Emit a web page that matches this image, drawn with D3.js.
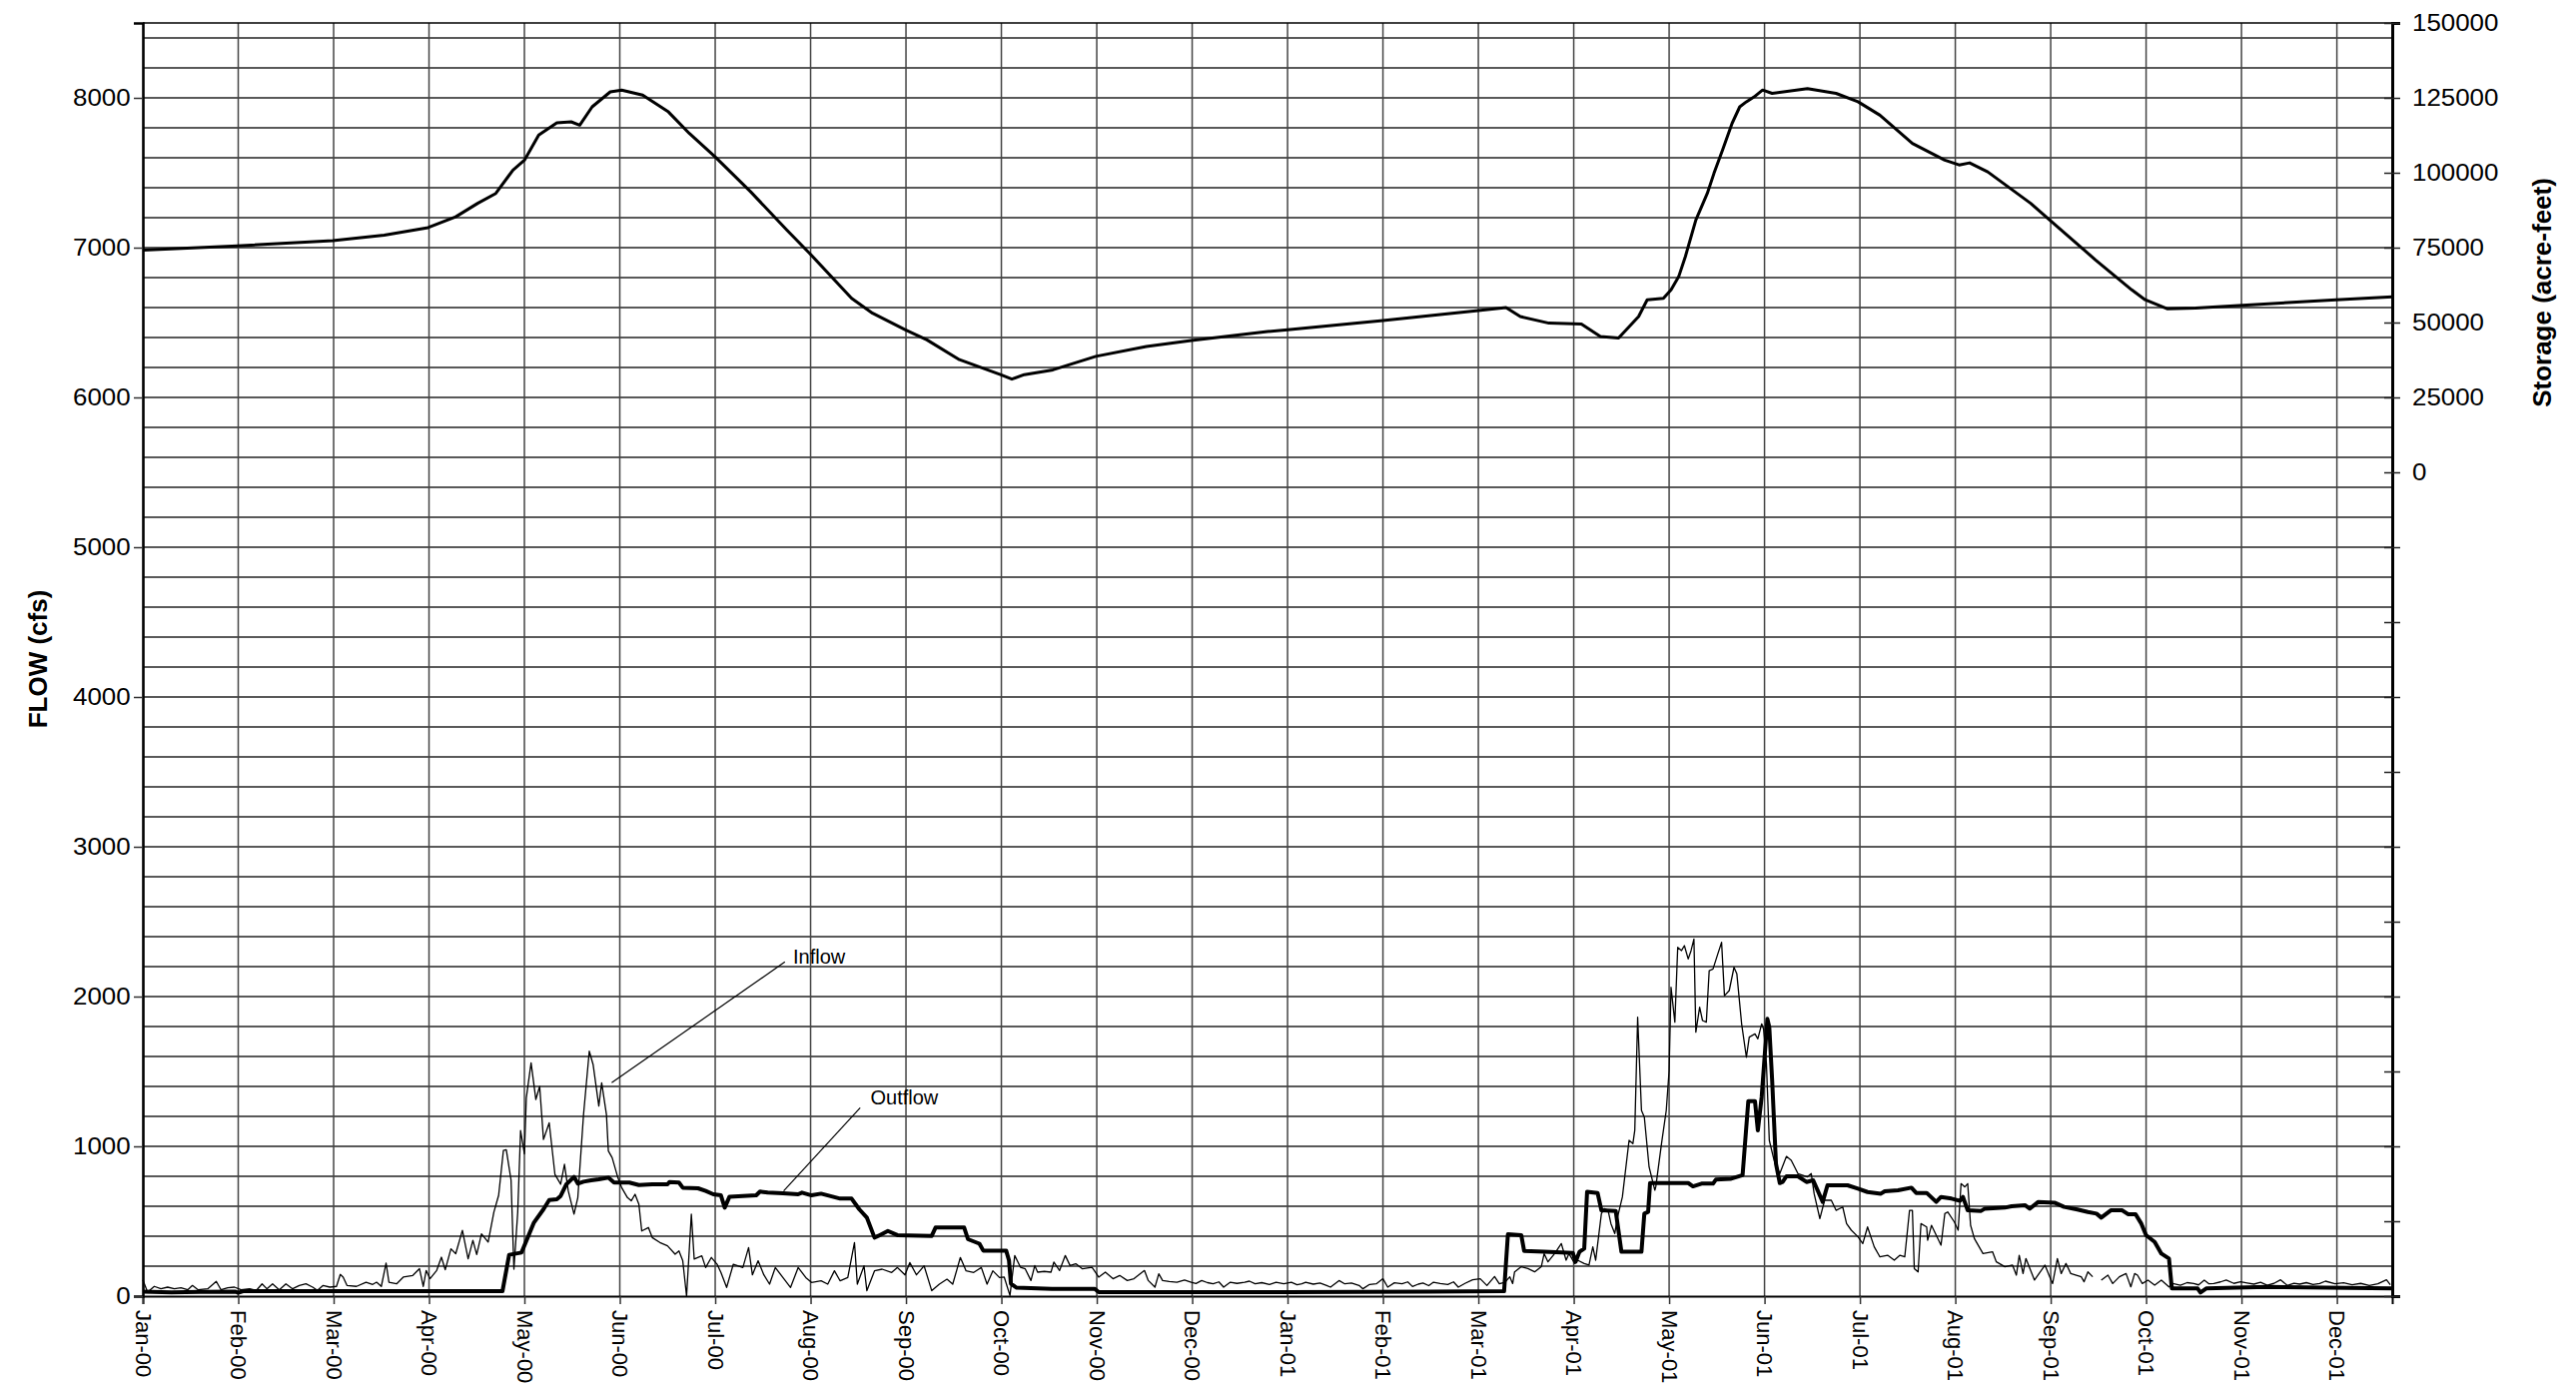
<!DOCTYPE html>
<html><head><meta charset="utf-8">
<script src="https://cdn.jsdelivr.net/npm/d3@7"></script>
<style>body{margin:0;background:#fff} text{font-family:"Liberation Sans",Arial,sans-serif;fill:#000}</style>
</head><body><svg id="c" width="2579" height="1388"></svg>
<script>
// ---- data (x = months since Jan-00) ----
const monthLabels = ["Jan-00","Feb-00","Mar-00","Apr-00","May-00","Jun-00","Jul-00","Aug-00","Sep-00","Oct-00","Nov-00","Dec-00",
  "Jan-01","Feb-01","Mar-01","Apr-01","May-01","Jun-01","Jul-01","Aug-01","Sep-01","Oct-01","Nov-01","Dec-01"];
const flowTicks = [0,1000,2000,3000,4000,5000,6000,7000,8000];
const storageLabels = [0,25000,50000,75000,100000,125000,150000];

const inflow = [[0,109],[0.05,27],[0.12,65],[0.19,49],[0.26,60],[0.33,49],[0.40,56],[0.47,42],[0.52,71],[0.58,42],[0.68,49],[0.77,98],[0.82,42],[0.89,56],[0.96,60],[1.03,42],[1.12,49],[1.19,38],[1.25,82],[1.30,49],[1.36,82],[1.43,42],[1.50,82],[1.57,49],[1.64,71],[1.71,82],[1.78,60],[1.83,38],[1.89,71],[1.96,60],[2.03,65],[2.07,145],[2.10,127],[2.14,71],[2.24,65],[2.34,93],[2.41,78],[2.45,93],[2.50,65],[2.55,220],[2.58,93],[2.66,82],[2.73,127],[2.83,138],[2.90,183],[2.94,65],[2.97,171],[3.01,116],[3.08,171],[3.13,260],[3.17,176],[3.23,316],[3.28,283],[3.35,439],[3.41,249],[3.46,372],[3.50,278],[3.55,416],[3.62,361],[3.68,561],[3.73,673],[3.78,973],[3.81,978],[3.86,775],[3.89,180],[3.93,560],[3.96,1105],[4.00,950],[4.02,1324],[4.07,1558],[4.12,1313],[4.16,1400],[4.20,1046],[4.26,1157],[4.32,813],[4.38,747],[4.42,880],[4.46,702],[4.52,547],[4.56,658],[4.62,1213],[4.68,1635],[4.72,1547],[4.78,1269],[4.81,1424],[4.86,1213],[4.88,969],[4.92,924],[4.98,791],[5.02,724],[5.08,658],[5.12,636],[5.16,680],[5.20,613],[5.23,435],[5.30,458],[5.34,391],[5.42,358],[5.50,336],[5.58,280],[5.62,302],[5.66,236],[5.70,0],[5.75,547],[5.78,247],[5.86,269],[5.90,191],[5.96,258],[6.02,213],[6.06,158],[6.12,58],[6.19,213],[6.29,191],[6.35,324],[6.39,142],[6.45,236],[6.51,142],[6.57,80],[6.63,191],[6.71,124],[6.79,58],[6.87,191],[6.95,124],[7.01,91],[7.11,102],[7.18,80],[7.25,169],[7.31,102],[7.39,124],[7.46,358],[7.49,80],[7.56,202],[7.59,36],[7.67,169],[7.75,180],[7.85,158],[7.91,191],[7.99,142],[8.04,224],[8.11,142],[8.19,202],[8.27,36],[8.35,80],[8.43,113],[8.49,80],[8.57,258],[8.63,169],[8.71,158],[8.79,191],[8.85,80],[8.91,169],[8.98,124],[9.03,127],[9.09,4],[9.14,271],[9.20,193],[9.25,182],[9.31,104],[9.35,204],[9.38,160],[9.45,165],[9.52,160],[9.55,227],[9.61,171],[9.67,271],[9.72,204],[9.78,216],[9.85,182],[9.95,193],[10.02,127],[10.09,160],[10.17,116],[10.24,138],[10.32,104],[10.39,116],[10.50,171],[10.54,104],[10.61,60],[10.65,149],[10.69,104],[10.76,98],[10.84,93],[10.92,108],[10.99,93],[11.04,84],[11.10,104],[11.16,90],[11.22,82],[11.28,95],[11.33,60],[11.40,93],[11.47,85],[11.55,93],[11.60,100],[11.66,82],[11.73,90],[11.81,78],[11.88,92],[11.96,82],[12.04,93],[12.10,76],[12.15,82],[12.19,93],[12.27,80],[12.34,88],[12.41,71],[12.45,60],[12.54,104],[12.60,82],[12.67,87],[12.75,71],[12.79,49],[12.86,78],[12.93,82],[13.00,116],[13.05,60],[13.12,89],[13.20,82],[13.26,95],[13.31,64],[13.37,80],[13.42,87],[13.48,70],[13.53,93],[13.60,84],[13.68,78],[13.74,95],[13.79,60],[13.86,85],[13.94,109],[14.02,116],[14.09,71],[14.17,131],[14.22,82],[14.28,93],[14.33,129],[14.36,84],[14.38,162],[14.45,196],[14.52,184],[14.59,162],[14.66,196],[14.69,284],[14.73,229],[14.80,284],[14.87,351],[14.92,240],[14.95,284],[15.01,218],[15.04,240],[15.11,218],[15.16,207],[15.20,329],[15.23,240],[15.29,551],[15.32,584],[15.36,573],[15.39,484],[15.43,418],[15.46,529],[15.51,662],[15.58,1040],[15.62,1018],[15.64,1107],[15.67,1862],[15.71,1240],[15.74,1195],[15.79,862],[15.85,707],[15.86,729],[15.92,1018],[15.97,1240],[16.00,1507],[16.02,2062],[16.06,1829],[16.09,2329],[16.13,2307],[16.16,2340],[16.20,2251],[16.23,2307],[16.26,2384],[16.28,1762],[16.32,1929],[16.35,1840],[16.39,1829],[16.42,2173],[16.46,2184],[16.51,2284],[16.55,2362],[16.58,2006],[16.63,2040],[16.68,2195],[16.71,2151],[16.76,1818],[16.81,1595],[16.84,1729],[16.90,1751],[16.93,1718],[16.97,1818],[16.99,1784],[17.02,1551],[17.05,1040],[17.10,907],[17.16,818],[17.23,933],[17.28,907],[17.35,818],[17.45,796],[17.49,818],[17.52,684],[17.58,518],[17.63,640],[17.70,640],[17.75,573],[17.82,595],[17.86,484],[17.91,440],[17.98,396],[18.03,351],[18.08,462],[18.15,329],[18.21,262],[18.29,273],[18.36,240],[18.42,273],[18.47,262],[18.52,573],[18.55,573],[18.57,184],[18.61,162],[18.64,484],[18.70,462],[18.71,373],[18.75,473],[18.80,407],[18.85,340],[18.89,551],[18.92,562],[18.99,495],[19.03,440],[19.06,751],[19.10,729],[19.13,751],[19.16,473],[19.20,384],[19.29,284],[19.39,296],[19.43,229],[19.52,196],[19.60,207],[19.64,140],[19.67,273],[19.71,151],[19.74,251],[19.83,107],[19.94,207],[19.99,129],[20.02,84],[20.07,251],[20.11,151],[20.16,218],[20.21,151],[20.32,129],[20.35,96],[20.39,162],[20.44,129],[20.48,null],[20.53,107],[20.60,140],[20.65,84],[20.72,129],[20.79,151],[20.84,62],[20.88,151],[20.91,140],[20.96,84],[21.02,107],[21.09,73],[21.16,107],[21.24,62],[21.28,84],[21.36,73],[21.43,90],[21.50,84],[21.55,75],[21.61,107],[21.66,82],[21.71,84],[21.78,95],[21.84,107],[21.92,85],[21.99,96],[22.06,88],[22.13,80],[22.20,92],[22.27,73],[22.34,85],[22.41,109],[22.48,71],[22.55,86],[22.61,80],[22.68,90],[22.75,78],[22.82,84],[22.88,100],[22.98,82],[23.07,89],[23.16,76],[23.25,85],[23.34,71],[23.43,82],[23.52,109],[23.56,76]];

const outflow = [[0,30],[0.3,25],[0.6,28],[0.97,30],[1.0,22],[1.05,33],[2.0,33],[3.0,33],[3.77,33],[3.84,276],[3.97,291],[4.02,369],[4.10,491],[4.20,580],[4.26,642],[4.34,647],[4.38,669],[4.44,747],[4.52,796],[4.56,751],[4.62,764],[4.70,773],[4.78,780],[4.88,791],[4.94,758],[5.10,758],[5.20,742],[5.34,747],[5.50,747],[5.52,762],[5.62,758],[5.66,724],[5.82,720],[5.90,702],[5.98,680],[6.06,673],[6.10,591],[6.15,664],[6.43,673],[6.47,698],[6.55,691],[6.71,687],[6.87,680],[6.91,691],[7.01,673],[7.11,684],[7.23,664],[7.31,651],[7.43,651],[7.51,580],[7.59,524],[7.67,391],[7.71,402],[7.81,435],[7.91,407],[8.27,402],[8.31,458],[8.61,458],[8.65,380],[8.77,350],[8.81,304],[9.05,304],[9.08,238],[9.10,82],[9.16,56],[9.53,49],[9.98,49],[10.02,27],[12.0,27],[13.5,30],[14.27,33],[14.31,413],[14.45,407],[14.48,302],[14.69,296],[14.99,289],[15.02,229],[15.06,296],[15.11,318],[15.14,696],[15.25,689],[15.29,573],[15.44,569],[15.50,296],[15.71,296],[15.74,551],[15.78,562],[15.80,755],[16.20,755],[16.25,733],[16.34,751],[16.46,751],[16.49,778],[16.65,784],[16.77,807],[16.83,1302],[16.90,1302],[16.93,1107],[16.97,1329],[17.03,1851],[17.05,1795],[17.08,1440],[17.12,884],[17.16,755],[17.19,762],[17.23,800],[17.35,800],[17.44,762],[17.51,773],[17.61,629],[17.66,740],[17.87,740],[17.98,718],[18.08,695],[18.22,684],[18.26,700],[18.40,707],[18.54,724],[18.59,689],[18.70,689],[18.80,629],[18.85,662],[18.96,651],[19.05,636],[19.08,662],[19.13,573],[19.27,569],[19.31,584],[19.52,591],[19.59,600],[19.73,607],[19.78,584],[19.87,629],[20.04,624],[20.14,596],[20.28,578],[20.39,562],[20.48,551],[20.53,524],[20.63,573],[20.75,573],[20.81,547],[20.89,547],[20.95,484],[21.00,407],[21.09,362],[21.16,284],[21.24,251],[21.27,51],[21.54,51],[21.57,24],[21.63,51],[22.27,62],[23.58,52]];

const storage = [[0,74200],[0.99,75600],[1.99,77300],[2.53,79200],[2.99,81700],[3.28,85300],[3.51,89800],[3.70,93100],[3.88,100900],[4.0,104200],[4.15,112600],[4.34,116700],[4.49,117000],[4.58,115900],[4.71,122000],[4.90,127000],[5.02,127600],[5.24,125900],[5.51,120300],[5.73,113100],[6.0,105300],[6.37,93700],[6.75,80900],[6.99,73100],[7.43,58100],[7.65,53100],[7.99,47600],[8.22,44200],[8.56,37600],[8.99,32600],[9.11,31100],[9.24,32600],[9.54,34200],[9.99,38700],[10.52,42000],[10.99,44000],[11.79,47000],[12.0,47600],[13.0,50700],[14.0,54000],[14.29,55000],[14.44,52000],[14.74,49800],[15.08,49500],[15.28,45300],[15.47,44800],[15.68,52000],[15.77,57600],[15.94,58100],[16.02,60900],[16.10,65300],[16.17,72000],[16.28,84200],[16.40,93100],[16.47,99800],[16.56,107600],[16.66,116500],[16.74,122000],[16.81,123700],[16.89,125300],[16.98,127600],[17.08,126500],[17.45,128100],[17.75,126500],[17.98,123700],[18.21,119200],[18.55,109800],[18.89,104200],[19.04,102600],[19.15,103300],[19.34,100300],[19.79,89800],[19.99,84200],[20.47,70900],[20.85,60900],[20.99,57600],[21.22,54600],[21.52,54800],[22.99,57600],[23.58,58600]];

// ---- layout ----
const L=143, R=2395, T=23, B=1298;
const svg = d3.select("#c");
svg.append("rect").attr("width",2579).attr("height",1388).attr("fill","#fff");

const x = d3.scaleLinear().domain([0,23.58]).range([L,R]);
const yF = d3.scaleLinear().domain([0,8500]).range([B,T]);
const yS = d3.scaleLinear().domain([-275000,150000]).range([B,T]);

// grid
const g = svg.append("g");
g.selectAll(".hg").data(d3.range(200,8500,200)).join("line")
  .attr("x1",L).attr("x2",R).attr("y1",d=>yF(d)).attr("y2",d=>yF(d))
  .attr("stroke","#222").attr("stroke-width",1.4);
g.selectAll(".vg").data(d3.range(1,24)).join("line")
  .attr("x1",d=>x(d)).attr("x2",d=>x(d)).attr("y1",T).attr("y2",B)
  .attr("stroke","#444").attr("stroke-width",1.5);
g.append("line").attr("x1",L).attr("x2",R).attr("y1",T).attr("y2",T).attr("stroke","#000").attr("stroke-width",1.6);

// series
const lineF = d3.line().defined(d=>d[1]!=null).x(d=>x(d[0])).y(d=>yF(d[1]));
const lineS = d3.line().x(d=>x(d[0])).y(d=>yS(d[1]));
svg.append("path").datum(inflow).attr("d",lineF).attr("fill","none").attr("stroke","#000").attr("stroke-width",1.3).attr("stroke-linejoin","round");
svg.append("path").datum(outflow).attr("d",lineF).attr("fill","none").attr("stroke","#000").attr("stroke-width",4).attr("stroke-linejoin","round");
svg.append("path").datum(storage).attr("d",lineS).attr("fill","none").attr("stroke","#000").attr("stroke-width",3).attr("stroke-linejoin","round");

// axes
const ax = svg.append("g").attr("transform",`translate(0,${B})`)
  .call(d3.axisBottom(x).tickValues(d3.range(0,24)).tickSize(8).tickFormat(i=>monthLabels[i]));
ax.select(".domain").attr("stroke","#000").attr("stroke-width",2);
ax.selectAll(".tick line").attr("stroke","#333").attr("stroke-width",1.5);
ax.selectAll(".tick text").attr("font-size",22).attr("text-anchor","start")
  .attr("x",0).attr("y",0).attr("dy","0.35em").attr("transform","translate(0,14) rotate(90)");

const ay = svg.append("g").attr("transform",`translate(${L},0)`)
  .call(d3.axisLeft(yF).tickValues(flowTicks).tickSize(9).tickFormat(d3.format("d")));
ay.select(".domain").attr("stroke","#000").attr("stroke-width",2.6);
ay.selectAll(".tick line").attr("stroke","#333").attr("stroke-width",1.5);
ay.selectAll(".tick text").attr("font-size",24).attr("x",-11.4).attr("transform","scale(1.08,1)");

const ar = svg.append("g").attr("transform",`translate(${R},0)`)
  .call(d3.axisRight(yS).tickValues(d3.range(-275000,150001,25000)).tickSize(8)
    .tickFormat(d=>storageLabels.includes(d)?String(d):""));
ar.select(".domain").attr("stroke","#000").attr("stroke-width",3);
ar.selectAll(".tick line").attr("x1",-8).attr("stroke","#222").attr("stroke-width",1.5);
ar.selectAll(".tick text").attr("font-size",24).attr("x",18.5).attr("transform","scale(1.08,1)");
svg.selectAll(".tick text").style("font-family","'Liberation Sans',Arial,sans-serif").attr("fill","#000");

// titles
svg.append("text").attr("transform","translate(38,660) rotate(-90)").attr("text-anchor","middle")
  .attr("dy","0.35em").attr("font-size",26).attr("font-weight","bold").text("FLOW (cfs)");
svg.append("text").attr("transform","translate(2545,293) rotate(-90)").attr("text-anchor","middle")
  .attr("dy","0.35em").attr("font-size",26).attr("font-weight","bold").text("Storage (acre-feet)");

// annotations
svg.append("line").attr("x1",785.8).attr("y1",963.3).attr("x2",612.4).attr("y2",1084.3).attr("stroke","#000").attr("stroke-width",1.2);
svg.append("text").attr("x",794).attr("y",965).attr("font-size",20).text("Inflow");
svg.append("line").attr("x1",861.2).attr("y1",1109.3).attr("x2",784.6).attr("y2",1192.7).attr("stroke","#000").attr("stroke-width",1.2);
svg.append("text").attr("x",871.5).attr("y",1106).attr("font-size",20).text("Outflow");
</script></body></html>
